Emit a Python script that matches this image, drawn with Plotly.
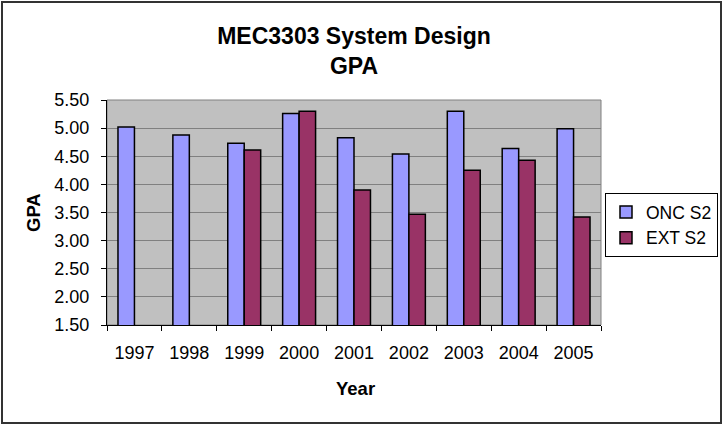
import plotly.graph_objects as go

years = ["1997", "1998", "1999", "2000", "2001", "2002", "2003", "2004", "2005"]
onc_s2 = [5.02, 4.88, 4.73, 5.26, 4.83, 4.54, 5.30, 4.64, 4.99]
ext_s2 = [None, None, 4.61, 5.30, 3.90, 3.47, 4.25, 4.43, 3.42]

W, H = 724, 428
L, R, T, B = 107, 601, 100, 325
pw, ph = R - L, B - T

def px_x(p):
    return (p - L) / pw

def px_y(p):
    return (B - p) / ph

FONT = "Liberation Sans, Arial, sans-serif"

fig = go.Figure()
fig.add_trace(go.Bar(x=years, y=onc_s2, name="ONC S2", legendgroup="a",
                     marker=dict(color="#9999FF", line=dict(color="black", width=1.5))))
fig.add_trace(go.Bar(x=years, y=ext_s2, name="EXT S2", legendgroup="b",
                     marker=dict(color="#993366", line=dict(color="black", width=1.5))))

fig.update_layout(
    width=W, height=H,
    margin=dict(l=L, r=W - R, t=T, b=H - B, pad=0, autoexpand=False),
    paper_bgcolor="white",
    plot_bgcolor="#C0C0C0",
    barmode="group", bargap=0.4, bargroupgap=0,
    font=dict(family=FONT, size=18, color="black"),
    title=dict(text="<b>MEC3303 System Design<br>GPA</b>", x=0.5, xanchor="center",
               xref="paper", yref="container", y=(H - 44) / H, yanchor="middle",
               font=dict(size=23, family=FONT, color="black")),
    showlegend=True,
    legend=dict(x=605 / W, y=(H - 193) / H, xanchor="left", yanchor="top",
                xref="container", yref="container",
                bordercolor="black", borderwidth=1, bgcolor="white",
                font=dict(size=17.5, family=FONT), tracegroupgap=14,
                traceorder="normal"),
)

fig.update_yaxes(range=[1.5, 5.5], dtick=0.5, tick0=1.5, tickformat=".2f",
                 showgrid=True, gridcolor="#808080", gridwidth=1,
                 showline=True, linecolor="black", linewidth=1,
                 ticks="outside", ticklen=5, tickcolor="black",
                 ticklabelstandoff=8, zeroline=False, mirror=False)
fig.update_xaxes(showline=True, linecolor="black", linewidth=1,
                 ticks="outside", ticklen=5, tickcolor="black",
                 tickson="boundaries", showgrid=False,
                 ticklabelstandoff=11)

# plot area border (gray) and outer chart border
fig.add_shape(type="rect", xref="paper", yref="paper", x0=0, y0=0, x1=1, y1=1,
              line=dict(color="#808080", width=1), layer="below")
fig.add_shape(type="rect", xref="paper", yref="paper",
              x0=px_x(2), x1=px_x(721), y0=px_y(2), y1=px_y(423),
              line=dict(color="#333333", width=2))

fig.add_annotation(text="<b>Year</b>", xref="paper", yref="paper",
                   x=px_x(355), y=px_y(388), showarrow=False,
                   font=dict(size=18.5, family=FONT), xanchor="center", yanchor="middle")
fig.add_annotation(text="<b>GPA</b>", xref="paper", yref="paper",
                   x=px_x(33), y=px_y(213), showarrow=False, textangle=-90,
                   font=dict(size=18.5, family=FONT), xanchor="center", yanchor="middle")

fig.write_html("out.html")
